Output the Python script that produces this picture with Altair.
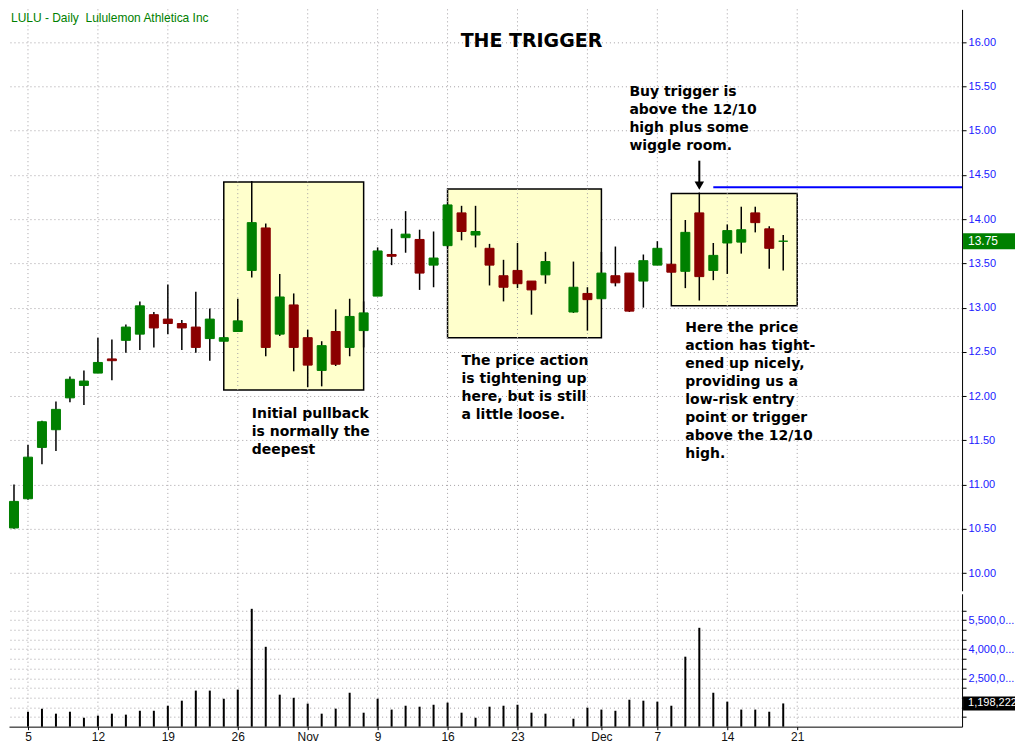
import altair as alt
import pandas as pd
import numpy as np

# ---------------- data ----------------
dates = ["2009-10-02", "2009-10-05", "2009-10-06", "2009-10-07", "2009-10-08", "2009-10-09",
         "2009-10-12", "2009-10-13", "2009-10-14", "2009-10-15", "2009-10-16",
         "2009-10-19", "2009-10-20", "2009-10-21", "2009-10-22", "2009-10-23",
         "2009-10-26", "2009-10-27", "2009-10-28", "2009-10-29", "2009-10-30",
         "2009-11-02", "2009-11-03", "2009-11-04", "2009-11-05", "2009-11-06",
         "2009-11-09", "2009-11-10", "2009-11-11", "2009-11-12", "2009-11-13",
         "2009-11-16", "2009-11-17", "2009-11-18", "2009-11-19", "2009-11-20",
         "2009-11-23", "2009-11-24", "2009-11-25", "2009-11-27",
         "2009-11-30", "2009-12-01", "2009-12-02", "2009-12-03", "2009-12-04",
         "2009-12-07", "2009-12-08", "2009-12-09", "2009-12-10", "2009-12-11",
         "2009-12-14", "2009-12-15", "2009-12-16", "2009-12-17", "2009-12-18"]
opens = [10.51, 10.84, 11.42, 11.62, 11.98, 12.12,
         12.26, 12.42, 12.63, 12.70, 12.92,
         12.87, 12.82, 12.78, 12.65, 12.62,
         12.73, 13.42, 13.90, 12.70, 13.03,
         12.66, 12.29, 12.73, 12.55, 12.74,
         13.13, 13.60, 13.79, 13.77, 13.48,
         13.70, 14.07, 13.82, 13.67, 13.36,
         13.42, 13.30, 13.37, 12.95,
         13.16, 13.10, 13.36, 13.39, 13.30,
         13.48, 13.49, 13.41, 14.07, 13.42,
         13.73, 13.74, 14.07, 13.89, 13.75]
highs = [11.00, 11.45, 11.72, 11.94, 12.22, 12.29,
         12.66, 12.64, 12.81, 13.07, 12.95,
         13.26, 12.86, 13.18, 12.99, 12.67,
         13.10, 14.43, 13.95, 13.38, 13.16,
         12.75, 12.62, 12.98, 13.10, 13.07,
         13.68, 13.89, 14.09, 13.88, 13.86,
         14.17, 14.15, 14.15, 13.72, 13.54,
         13.73, 13.30, 13.63, 13.52,
         13.23, 13.63, 13.69, 13.39, 13.60,
         13.75, 13.49, 13.99, 14.30, 13.73,
         13.94, 14.14, 14.14, 13.92, 13.82]
lows = [10.50, 10.83, 11.23, 11.38, 11.93, 11.90,
        12.26, 12.18, 12.49, 12.52, 12.55,
        12.70, 12.52, 12.49, 12.40, 12.61,
        12.73, 13.34, 12.45, 12.68, 12.28,
        12.10, 12.11, 12.34, 12.45, 12.55,
        13.13, 13.48, 13.62, 13.20, 13.23,
        13.68, 13.76, 13.68, 13.25, 13.07,
        13.22, 12.92, 13.27, 12.94,
        12.74, 13.10, 13.24, 12.95, 13.00,
        13.48, 13.39, 13.22, 13.08, 13.31,
        13.38, 13.61, 13.85, 13.44, 13.42]
closes = [10.81, 11.31, 11.71, 11.85, 12.19, 12.17,
          12.38, 12.40, 12.78, 13.02, 12.77,
          12.82, 12.77, 12.55, 12.87, 12.66,
          12.85, 13.96, 12.55, 13.12, 12.55,
          12.35, 12.57, 12.36, 12.90, 12.94,
          13.64, 13.58, 13.83, 13.39, 13.56,
          14.16, 13.86, 13.86, 13.48, 13.23,
          13.27, 13.20, 13.52, 13.23,
          13.09, 13.39, 13.28, 12.96, 13.53,
          13.67, 13.40, 13.85, 13.35, 13.59,
          13.87, 13.88, 13.96, 13.67, 13.75]
volumes = [None, 770000, 930000, 670000, 770000, 460000,
           570000, 670000, 620000, 820000, 820000,
           1080000, 1340000, 1860000, 1860000, 1440000,
           1910000, 6080000, 4120000, 1650000, 1490000,
           1190000, 670000, 930000, 1750000, 720000,
           1440000, 880000, 1080000, 1030000, 1130000,
           1240000, 720000, 460000, 1030000, 1080000,
           1130000, 720000, 670000, 410000,
           980000, 880000, 820000, 1390000, 1340000,
           1290000, 1080000, 3610000, 5100000, 1750000,
           1290000, 880000, 880000, 770000, 1198222]

grid_dates = ["2009-10-05", "2009-10-12", "2009-10-19", "2009-10-26", "2009-11-02",
              "2009-11-09", "2009-11-16", "2009-11-23", "2009-11-30", "2009-12-07",
              "2009-12-14", "2009-12-21"]
tick_dates = ["2009-10-05", "2009-10-12", "2009-10-19", "2009-10-26", "2009-11-02",
              "2009-11-09", "2009-11-16", "2009-11-23", "2009-12-01", "2009-12-07",
              "2009-12-14", "2009-12-21"]
tick_labels = ["5", "12", "19", "26", "Nov", "9", "16", "23", "Dec", "7", "14", "21"]

price_ticks = [10.0, 10.5, 11.0, 11.5, 12.0, 12.5, 13.0, 13.5, 14.0, 14.5, 15.0, 15.5, 16.0]
volume_ticks = [500000, 1000000, 1500000, 2000000, 2500000, 3000000, 3500000, 4000000,
                4500000, 5000000, 5500000, 6000000]
volume_labelled = [2500000, 4000000, 5500000]

box_start = ["2009-10-23", "2009-11-16", "2009-12-08"]
box_end = ["2009-11-06", "2009-12-01", "2009-12-21"]
box_top = [14.42, 14.34, 14.29]
box_bottom = [12.07, 12.66, 13.02]

trigger_start = "2009-12-11"
trigger_level = 14.36
arrow_date = "2009-12-10"
arrow_top = 14.66
arrow_end = 14.40
arrow_head = 14.378

note_dates = ["2009-10-27", "2009-11-17", "2009-12-03", "2009-12-09"]
note_prices = [11.75, 12.35, 15.39, 12.72]
note_texts = [
    "Initial pullback\nis normally the\ndeepest",
    "The price action\nis tightening up\nhere, but is still\na little loose.",
    "Buy trigger is\nabove the 12/10\nhigh plus some\nwiggle room.",
    "Here the price\naction has tight-\nened up nicely,\nproviding us a\nlow-risk entry\npoint or trigger\nabove the 12/10\nhigh.",
]
title_date = "2009-11-24"
title_price = 15.944
title_text = "THE TRIGGER"
header_date = "2009-10-02"
header_price = 16.23
header_text = "LULU - Daily \u00a0Lululemon Athletica Inc"

X_DOMAIN = [-0.357, 67.786]
P_DOMAIN = [9.80, 16.37]
V_DOMAIN = [0, 6856000]

ORIGIN = dates[0]


def idx(d):
    return int(np.busday_count(ORIGIN, d))


# ---------------- tables ----------------
df = pd.DataFrame({"date": dates, "open": opens, "high": highs, "low": lows,
                   "close": closes, "volume": volumes})
df["i"] = [idx(d) for d in dates]
df["dir"] = np.where(df["close"] >= df["open"], "up", "down")
vol_df = df.dropna(subset=["volume"])

grid_df = pd.DataFrame({"i": [idx(d) for d in grid_dates]})
box_df = pd.DataFrame({"i0": [idx(d) for d in box_start], "i1": [idx(d) for d in box_end],
                       "top": box_top, "bottom": box_bottom})
trig_df = pd.DataFrame({"i0": [idx(trigger_start)], "i1": [X_DOMAIN[1]], "y": [trigger_level]})
arrow_df = pd.DataFrame({"i": [idx(arrow_date)], "y0": [arrow_top], "y1": [arrow_end],
                         "yh": [arrow_head]})
notes_df = pd.DataFrame({"i": [idx(d) for d in note_dates], "y": note_prices, "t": note_texts})
title_df = pd.DataFrame({"i": [idx(title_date)], "y": [title_price], "t": [title_text]})
header_df = pd.DataFrame({"i": [idx(header_date)], "y": [header_price], "t": [header_text]})
last_close = closes[-1]
last_df = pd.DataFrame({"y": [last_close], "y0": [last_close - 0.09], "y1": [last_close + 0.09],
                        "t": [f"{last_close:.2f}"]})
last_vol = volumes[-1]
lastv_df = pd.DataFrame({"y": [last_vol], "y0": [last_vol - 360000], "y1": [last_vol + 360000],
                         "t": [f"{last_vol:,}"]})

xs = alt.Scale(domain=X_DOMAIN, nice=False, zero=False, padding=0)
ps = alt.Scale(domain=P_DOMAIN, nice=False, zero=False, padding=0)
vs = alt.Scale(domain=V_DOMAIN, nice=False, zero=True, padding=0)

GRID = "#a4a0a4"
AX_BLUE = "#2020ff"

price_axis = alt.Axis(orient="right", values=price_ticks, format=".2f", title=None,
                      labelColor=AX_BLUE, labelFont="Liberation Sans", labelFontSize=11,
                      labelPadding=2, tickSize=4, tickColor="black", domainColor="black",
                      grid=True, gridDash=[1, 3], gridColor=GRID, labelOverlap=False)

tick_idx = [idx(d) for d in tick_dates]
label_expr = "".join(f"datum.value == {v} ? '{l}' : " for v, l in zip(tick_idx, tick_labels)) + "''"
x_axis = alt.Axis(values=tick_idx, labelExpr=label_expr, title=None, grid=False,
                  tickSize=3, tickColor="black", domainColor="black", labelFont="Liberation Sans",
                  labelFontSize=12, labelColor="#111111", labelPadding=2, labelOverlap=False,
                  labelFlush=False)

vol_cond = " || ".join(f"datum.value == {v}" for v in volume_labelled)
v_label_expr = f"({vol_cond}) ? slice(format(datum.value, ','), 0, 7) + '...' : ''"
vol_axis = alt.Axis(orient="right", values=volume_ticks, labelExpr=v_label_expr, title=None,
                    labelColor=AX_BLUE, labelFont="Liberation Sans", labelFontSize=11,
                    labelPadding=2, tickSize=4, tickColor="black", domainColor="black",
                    grid=True, gridDash=[1, 3], gridColor=GRID, labelOverlap=False)


def PX(field):
    return alt.X(field, scale=xs, axis=None)


def PY(field):
    return alt.Y(field, scale=ps, axis=price_axis)


def VX(field):
    return alt.X(field, scale=xs, axis=x_axis)


def VY(field):
    return alt.Y(field, scale=vs, axis=vol_axis)


# ---------------- price panel ----------------
boxes = alt.Chart(box_df).mark_rect(fill="#ffffcc", stroke="black", strokeWidth=1.5).encode(
    x=PX("i0:Q"), x2="i1:Q", y=PY("top:Q"), y2="bottom:Q")

vgrid = alt.Chart(grid_df).mark_rule(color=GRID, strokeDash=[1, 3], strokeWidth=1).encode(
    x=PX("i:Q"))

trig = alt.Chart(trig_df).mark_rule(color="#0000ff", strokeWidth=2).encode(
    x=PX("i0:Q"), x2="i1:Q", y=PY("y:Q"))

wicks = alt.Chart(df).mark_rule(color="black", strokeWidth=1.5).encode(
    x=PX("i:Q"), y=PY("low:Q"), y2="high:Q")

cscale = alt.Scale(domain=["up", "down"], range=["#008000", "#8b0000"])
bodies = alt.Chart(df).mark_bar(size=9, strokeWidth=1).encode(
    x=PX("i:Q"), y=PY("open:Q"), y2="close:Q",
    color=alt.Color("dir:N", scale=cscale, legend=None),
    stroke=alt.Stroke("dir:N", scale=cscale, legend=None))

arrow_line = alt.Chart(arrow_df).mark_rule(color="black", strokeWidth=2).encode(
    x=PX("i:Q"), y=PY("y0:Q"), y2="y1:Q")
arrow_head_m = alt.Chart(arrow_df).mark_point(shape="triangle-down", filled=True, color="black",
                                              size=90, opacity=1).encode(
    x=PX("i:Q"), y=PY("yh:Q"))

notes = alt.Chart(notes_df).mark_text(align="left", baseline="alphabetic", lineBreak="\n",
                                      lineHeight=18, font="DejaVu Sans", fontWeight="bold",
                                      fontSize=14, color="black").encode(
    x=PX("i:Q"), y=PY("y:Q"), text="t:N")

title = alt.Chart(title_df).mark_text(align="center", baseline="alphabetic", font="DejaVu Sans",
                                      fontWeight="bold", fontSize=19, color="black").encode(
    x=PX("i:Q"), y=PY("y:Q"), text="t:N")

header = alt.Chart(header_df).mark_text(align="left", baseline="alphabetic", dx=-3,
                                        font="Liberation Sans", fontSize=12,
                                        color="#008000").encode(
    x=PX("i:Q"), y=PY("y:Q"), text="t:N")

last_box = alt.Chart(last_df).mark_rect(color="#008000").encode(
    x=alt.value(955), x2=alt.value(1007), y=PY("y0:Q"), y2="y1:Q")
last_txt = alt.Chart(last_df).mark_text(align="left", baseline="middle", color="white",
                                        font="Liberation Sans", fontSize=12).encode(
    x=alt.value(960), y=PY("y:Q"), text="t:N")

price = alt.layer(boxes, vgrid, trig, wicks, bodies, arrow_line, arrow_head_m,
                  notes, title, header, last_box, last_txt).properties(width=954, height=582)

# ---------------- volume panel ----------------
vbars = alt.Chart(vol_df).mark_bar(size=2, color="black").encode(
    x=VX("i:Q"), y=VY("volume:Q"))
vgrid2 = alt.Chart(grid_df).mark_rule(color=GRID, strokeDash=[1, 3], strokeWidth=1).encode(
    x=VX("i:Q"))
lastv_box = alt.Chart(lastv_df).mark_rect(color="black").encode(
    x=alt.value(955), x2=alt.value(1007), y=VY("y0:Q"), y2="y1:Q")
lastv_txt = alt.Chart(lastv_df).mark_text(align="left", baseline="middle", color="white",
                                          font="Liberation Sans", fontSize=11).encode(
    x=alt.value(960), y=VY("y:Q"), text="t:N")

volume = alt.layer(vgrid2, vbars, lastv_box, lastv_txt).properties(width=954, height=133)

chart = alt.vconcat(price, volume, spacing=3, bounds="flush").properties(
    padding=0, background="white"
).configure_view(strokeWidth=0)

chart.save("out.html", embed_options={"renderer": "svg", "actions": False})
